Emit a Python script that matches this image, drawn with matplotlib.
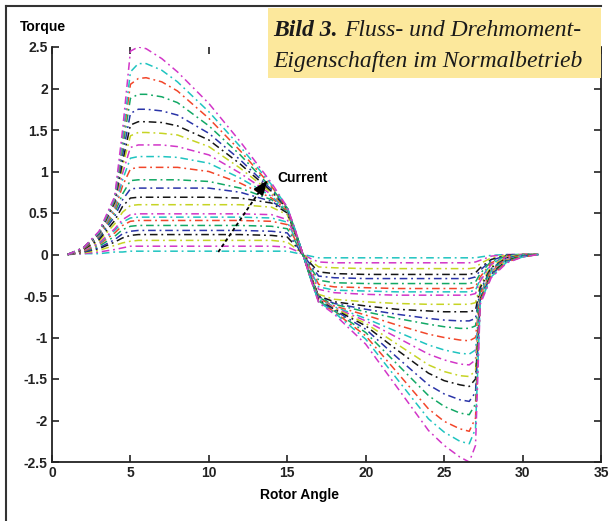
import matplotlib
matplotlib.use('Agg')
import matplotlib.pyplot as plt
from matplotlib.patches import Rectangle
from matplotlib.lines import Line2D

# rotor angle samples shared by every current curve
angle = [1, 2, 3, 4, 4.5, 5, 5.5, 6, 7, 8, 10, 12, 14, 15, 15.5, 16,
         16.5, 17, 18, 20, 22, 24, 25, 26, 26.6, 27, 27.3, 28, 29, 30, 31]

# torque, highest current first
i01 = [0, .08, .28, .7, 1.5, 2.45, 2.5, 2.48, 2.36, 2.2, 1.82, 1.36, .86, .57, .3, 0,
       -.3, -.58, -.72, -1.08, -1.6, -2.12, -2.3, -2.44, -2.5, -2.3, -.6, -.28, -.1, -.03, 0]
i02 = [0, .08, .27, .68, 1.4, 2.2, 2.3, 2.3, 2.22, 2.08, 1.72, 1.3, .84, .57, .3, 0,
       -.3, -.57, -.7, -1.02, -1.5, -1.98, -2.14, -2.25, -2.28, -2.1, -.58, -.27, -.09, -.03, 0]
i03 = [0, .08, .27, .67, 1.35, 2.05, 2.12, 2.13, 2.08, 1.97, 1.64, 1.25, .82, .56, .29, 0,
       -.3, -.57, -.69, -.98, -1.42, -1.86, -2.01, -2.1, -2.13, -1.97, -.57, -.26, -.09, -.03, 0]
i04 = [0, .08, .26, .66, 1.28, 1.88, 1.93, 1.93, 1.9, 1.83, 1.55, 1.2, .8, .56, .29, 0,
       -.3, -.56, -.68, -.94, -1.32, -1.7, -1.83, -1.91, -1.93, -1.8, -.56, -.25, -.08, -.02, 0]
i05 = [0, .08, .26, .65, 1.2, 1.7, 1.75, 1.75, 1.73, 1.68, 1.46, 1.14, .78, .55, .29, 0,
       -.29, -.56, -.67, -.9, -1.24, -1.57, -1.68, -1.75, -1.77, -1.66, -.55, -.24, -.08, -.02, 0]
i06 = [0, .08, .25, .63, 1.12, 1.56, 1.6, 1.6, 1.59, 1.55, 1.38, 1.09, .76, .55, .28, 0,
       -.29, -.55, -.66, -.86, -1.15, -1.43, -1.52, -1.57, -1.59, -1.5, -.54, -.23, -.07, -.02, 0]
i07 = [0, .08, .25, .61, 1.06, 1.43, 1.47, 1.47, 1.46, 1.44, 1.3, 1.04, .74, .54, .28, 0,
       -.29, -.55, -.65, -.83, -1.08, -1.33, -1.41, -1.46, -1.47, -1.4, -.53, -.22, -.07, -.02, 0]
i08 = [0, .08, .24, .59, .98, 1.29, 1.32, 1.32, 1.32, 1.3, 1.2, .98, .72, .54, .28, 0,
       -.28, -.54, -.64, -.8, -1.0, -1.2, -1.27, -1.32, -1.33, -1.27, -.52, -.21, -.06, -.02, 0]
i09 = [0, .08, .23, .56, .9, 1.16, 1.18, 1.18, 1.18, 1.17, 1.1, .92, .7, .53, .27, 0,
       -.28, -.54, -.63, -.77, -.93, -1.09, -1.15, -1.19, -1.2, -1.15, -.5, -.2, -.06, -.01, 0]
i10 = [0, .07, .22, .53, .83, 1.03, 1.05, 1.05, 1.05, 1.05, 1.0, .86, .68, .53, .27, 0,
       -.28, -.53, -.62, -.73, -.85, -.96, -1.0, -1.03, -1.04, -1.0, -.48, -.19, -.05, -.01, 0]
i11 = [0, .07, .21, .5, .73, .89, .9, .9, .9, .9, .88, .8, .66, .52, .26, 0,
       -.27, -.52, -.6, -.69, -.77, -.84, -.87, -.89, -.89, -.86, -.45, -.18, -.05, -.01, 0]
i12 = [0, .07, .2, .46, .66, .79, .8, .8, .8, .8, .8, .75, .64, .52, .26, 0,
       -.27, -.51, -.59, -.66, -.72, -.77, -.79, -.8, -.8, -.77, -.43, -.17, -.04, -.01, 0]
i13 = [0, .06, .18, .41, .58, .68, .69, .69, .69, .69, .69, .68, .62, .5, .25, 0,
       -.26, -.5, -.57, -.62, -.66, -.68, -.69, -.69, -.69, -.67, -.4, -.16, -.04, -.01, 0]
i14 = [0, .06, .16, .37, .51, .59, .6, .6, .6, .6, .6, .6, .57, .48, .24, 0,
       -.25, -.48, -.54, -.57, -.59, -.6, -.6, -.6, -.6, -.58, -.37, -.14, -.03, 0, 0]
i15 = [0, .05, .14, .31, .42, .48, .49, .49, .49, .49, .49, .49, .48, .42, .22, 0,
       -.22, -.42, -.46, -.48, -.49, -.49, -.49, -.49, -.49, -.47, -.32, -.12, -.03, 0, 0]
i16 = [0, .05, .13, .29, .39, .44, .45, .45, .45, .45, .45, .45, .44, .39, .2, 0,
       -.2, -.39, -.43, -.44, -.45, -.45, -.45, -.45, -.45, -.43, -.3, -.11, -.02, 0, 0]
i17 = [0, .04, .12, .26, .35, .4, .41, .41, .41, .41, .41, .41, .4, .36, .18, 0,
       -.18, -.36, -.39, -.4, -.41, -.41, -.41, -.41, -.41, -.39, -.27, -.1, -.02, 0, 0]
i18 = [0, .04, .1, .22, .3, .34, .35, .35, .35, .35, .35, .35, .34, .31, .16, 0,
       -.16, -.31, -.34, -.35, -.35, -.35, -.35, -.35, -.35, -.33, -.23, -.08, -.02, 0, 0]
i19 = [0, .03, .08, .18, .25, .28, .29, .29, .29, .29, .29, .29, .28, .26, .13, 0,
       -.13, -.26, -.28, -.29, -.29, -.29, -.29, -.29, -.29, -.27, -.19, -.07, -.01, 0, 0]
i20 = [0, .03, .07, .15, .2, .23, .24, .24, .24, .24, .24, .24, .23, .21, .11, 0,
       -.11, -.21, -.23, -.24, -.24, -.24, -.24, -.24, -.24, -.22, -.16, -.06, -.01, 0, 0]
i21 = [0, .02, .05, .11, .14, .16, .17, .17, .17, .17, .17, .17, .17, .15, .08, 0,
       -.08, -.15, -.16, -.17, -.17, -.17, -.17, -.17, -.17, -.16, -.11, -.04, -.01, 0, 0]
i22 = [0, .01, .03, .06, .08, .1, .1, .1, .1, .1, .1, .1, .1, .09, .05, 0,
       -.05, -.09, -.1, -.1, -.1, -.1, -.1, -.1, -.1, -.09, -.07, -.02, 0, 0, 0]
i23 = [0, .01, .01, .03, .03, .04, .04, .04, .04, .04, .04, .04, .04, .04, .02, 0,
       -.02, -.04, -.04, -.04, -.04, -.04, -.04, -.04, -.04, -.04, -.03, -.01, 0, 0, 0]

curves = [i01, i02, i03, i04, i05, i06, i07, i08, i09, i10, i11, i12,
          i13, i14, i15, i16, i17, i18, i19, i20, i21, i22, i23]

# matlab-ish colour cycle: m c r g b k y
colors = ['#d236c8', '#1fc4c0', '#f2462a', '#12a865', '#2a34a8', '#151515', '#c6d424']

xticks = [0, 5, 10, 15, 20, 25, 30, 35]
yticks = [-2.5, -2, -1.5, -1, -0.5, 0, 0.5, 1, 1.5, 2, 2.5]
ytick_labels = ['-2.5', '-2', '-1.5', '-1', '-0.5', '0', '0.5', '1', '1.5', '2', '2.5']

fig = plt.figure(figsize=(6.09, 5.21), dpi=100)
fig.patch.set_facecolor('white')
ax = fig.add_axes([52/609, 59/521, 549/609, 415/521])

for k in range(len(curves) - 1, -1, -1):
    ax.plot(angle, curves[k], color=colors[k % len(colors)], lw=1.1,
            linestyle=(0, (5, 2.5, 1.2, 2.5)), solid_capstyle='butt')

ax.set_xlim(0, 35)
ax.set_ylim(-2.5, 2.5)
ax.set_xticks(xticks)
ax.set_yticks(yticks)
ax.set_yticklabels(ytick_labels)
ax.spines['top'].set_visible(False)
for s in ['left', 'right', 'bottom']:
    ax.spines[s].set_linewidth(1.3)
    ax.spines[s].set_color('#222222')
ax.tick_params(direction='in', length=5, width=1.2, top=True, right=True,
               labelsize=10, pad=3, colors='#222222')
for lab in ax.get_xticklabels() + ax.get_yticklabels():
    lab.set_fontweight('bold')
    lab.set_family('Liberation Sans')

# arrow showing increasing current
ax.plot([10.6, 13.3], [0.03, 0.78], color='black', lw=1.3, linestyle=(0, (2, 1.5)))
ax.annotate('', xy=(13.85, 0.92), xytext=(13.2, 0.76),
            arrowprops=dict(arrowstyle='-|>,head_length=0.9,head_width=0.35',
                            color='black', lw=1.2))
ax.text(14.4, 0.92, 'Current', fontsize=10, fontweight='bold',
        family='Liberation Sans', va='center', ha='left')

fig.text(20/609, 1 - 27/521, 'Torque', fontsize=10, fontweight='bold',
         family='Liberation Sans', va='center', ha='left')
fig.text(300/609, 1 - 495/521, 'Rotor Angle', fontsize=10, fontweight='bold',
         family='Liberation Sans', va='center', ha='center')

# caption box in the corner
fig.patches.append(Rectangle((268/609, 1 - 78/521), 333/609, 70/521,
                             transform=fig.transFigure, facecolor='#fce89c',
                             edgecolor='none', zorder=5))
cap_size = 17
t1 = fig.text(273/609, 1 - 31/521, 'Bild 3.', fontsize=cap_size, fontweight='bold',
              style='italic', family='Liberation Serif', va='center', ha='left',
              zorder=6, color='#1a1a1a')
fig.canvas.draw()
bb = t1.get_window_extent()
fig.text(bb.x1 / 609 + 7/609, 1 - 31/521, 'Fluss- und Drehmoment-', fontsize=cap_size,
         style='italic', family='Liberation Serif', va='center', ha='left',
         zorder=6, color='#1a1a1a')
fig.text(273/609, 1 - 61/521, 'Eigenschaften im Normalbetrieb', fontsize=cap_size,
         style='italic', family='Liberation Serif', va='center', ha='left',
         zorder=6, color='#1a1a1a')

# thin frame on the left and top of the figure
fig.lines.append(Line2D([6/609, 6/609], [0, 1 - 6/521], transform=fig.transFigure,
                        color='#333333', lw=1.5))
fig.lines.append(Line2D([6/609, 601/609], [1 - 6/521, 1 - 6/521],
                        transform=fig.transFigure, color='#333333', lw=1.5))

plt.savefig('out.png', dpi=100)
